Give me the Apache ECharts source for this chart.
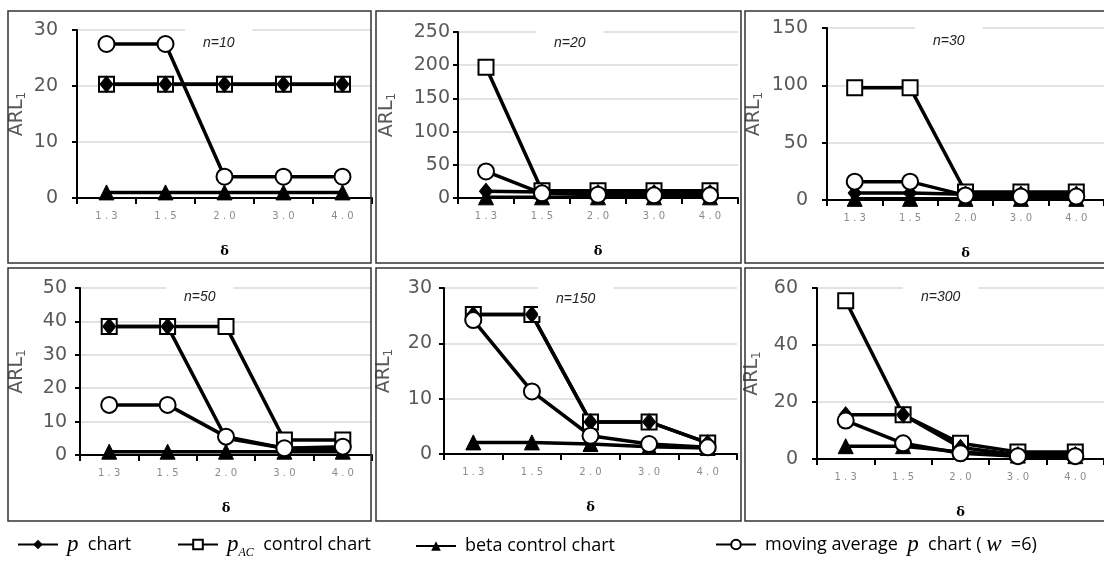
<!DOCTYPE html>
<html>
<head>
<meta charset="utf-8">
<script src="https://cdn.jsdelivr.net/npm/echarts@6/dist/echarts.min.js"></script>
<style>
  html, body { margin: 0; padding: 0; background: #fff; }
  #main { width: 1104px; height: 563px; }
</style>
</head>
<body>
<div id="main"></div>
<script>
// shift sizes (x axis) and panel sample sizes
const delta = ['1.3', '1.5', '2.0', '3.0', '4.0'];
const panelTitles = ['n=10', 'n=20', 'n=30', 'n=50', 'n=150', 'n=300'];
const yMax = [30, 250, 150, 50, 30, 60];
const yStep = [10, 50, 50, 10, 10, 20];

// ARL1 values per panel
const pChart = [
  [20.3, 20.3, 20.3, 20.3, 20.3],
  [10, 9, 8, 8, 8],
  [6, 6, 5, 5, 5],
  [38.5, 38.5, 5, 2, 2],
  [25.2, 25.2, 5.8, 5.8, 2],
  [15.5, 15.5, 4, 1.5, 1.5]
];
const pAC = [
  [20.3, 20.3, 20.3, 20.3, 20.3],
  [197, 11, 11, 11, 11],
  [98, 98, 7, 7, 7],
  [38.5, 38.5, 38.5, 4.5, 4.5],
  [25.2, 25.2, 5.8, 5.8, 2],
  [55.5, 15.5, 5.5, 2.5, 2.5]
];
const betaChart = [
  [1, 1, 1, 1, 1],
  [1, 1, 1, 1, 1],
  [1, 1, 1, 1, 1],
  [1, 1, 1, 1, 1],
  [2.1, 2.1, 1.8, 1.3, 1.1],
  [4.5, 4.5, 2.5, 1.2, 1]
];
const maChart = [
  [27.5, 27.5, 3.8, 3.8, 3.8],
  [40, 7, 5, 4, 4],
  [16, 16, 4, 3, 3],
  [15, 15, 5.5, 2, 2.5],
  [24.2, 11.3, 3.3, 1.8, 1.2],
  [13.5, 5.5, 2, 1, 1]
];

const seriesNames = ['p chart', 'pAC control chart', 'beta control chart', 'moving average p chart (w =6)'];

// layout of the six plot areas
const grids = [
  { left: 77, top: 30, width: 295, height: 168 },
  { left: 458, top: 32, width: 280, height: 166 },
  { left: 827, top: 28, width: 283, height: 172 },
  { left: 80, top: 288, width: 292, height: 167 },
  { left: 444, top: 288, width: 293, height: 166 },
  { left: 817, top: 288, width: 287, height: 171 }
];
const yLabelMargin = [19, 8, 19, 13, 12, 19];
const yNameGap = [49, 60, 62, 52, 49, 54];
const titlePos = [[220, 27], [571, 27], [950, 25], [201, 281], [573, 283], [938, 281]];
const boxes = [
  [8, 11, 363, 252], [376, 11, 365, 252], [745, 11, 370, 252],
  [8, 268, 363, 253], [376, 268, 365, 253], [745, 268, 370, 253]
];

const chart = echarts.init(document.getElementById('main'));

const xAxis = [], yAxis = [], series = [], title = [], graphic = [];

grids.forEach((g, i) => {
  xAxis.push({
    gridIndex: i,
    type: 'category',
    data: delta,
    boundaryGap: true,
    axisLine: { lineStyle: { color: '#000', width: 2 } },
    axisTick: { show: true, length: 6, lineStyle: { color: '#000', width: 2 } },
    axisLabel: {
      color: '#8c8c8c', fontSize: 10, margin: 13, fontFamily: 'DejaVu Sans',
      formatter: v => v.split('').join(' ')
    },
    name: 'δ',
    nameLocation: 'middle',
    nameGap: 47,
    nameTextStyle: { fontFamily: 'DejaVu Serif', fontWeight: 'bold', fontSize: 13, color: '#000' }
  });
  yAxis.push({
    gridIndex: i,
    type: 'value',
    min: 0,
    max: yMax[i],
    interval: yStep[i],
    axisLine: { show: true, lineStyle: { color: '#000', width: 2 } },
    axisTick: { show: true, length: 5, lineStyle: { color: '#000', width: 2 } },
    axisLabel: { color: '#595959', fontSize: 19, margin: yLabelMargin[i], fontFamily: 'DejaVu Sans' },
    splitLine: { lineStyle: { color: '#d9d9d9', width: 1.5 } },
    name: '{a|ARL}{b|1}',
    nameLocation: 'middle',
    nameRotate: 90,
    nameGap: yNameGap[i],
    nameTextStyle: {
      rich: {
        a: { color: '#595959', fontSize: 19, fontFamily: 'DejaVu Sans' },
        b: { color: '#595959', fontSize: 12, fontFamily: 'DejaVu Sans', verticalAlign: 'bottom', padding: [9, 0, 0, 0] }
      }
    }
  });
  title.push({
    text: panelTitles[i],
    left: titlePos[i][0] - 35,
    top: titlePos[i][1],
    backgroundColor: '#fff',
    padding: [9, 18, 10, 18],
    textStyle: { fontSize: 14, fontStyle: 'italic', fontWeight: 'normal', color: '#222', fontFamily: 'Liberation Sans' }
  });
  const base = { type: 'line', xAxisIndex: i, yAxisIndex: i, lineStyle: { color: '#000', width: 3.5 },
    itemStyle: { color: '#000', borderColor: '#000' }, animation: false };
  series.push(Object.assign({}, base, {
    name: seriesNames[1], data: pAC[i], symbol: 'rect', symbolSize: 15,
    itemStyle: { color: '#fff', borderColor: '#000', borderWidth: 2 }
  }));
  series.push(Object.assign({}, base, {
    name: seriesNames[0], data: pChart[i], symbol: 'diamond', symbolSize: [13, 16]
  }));
  series.push(Object.assign({}, base, {
    name: seriesNames[2], data: betaChart[i], symbol: 'triangle', symbolSize: 15
  }));
  series.push(Object.assign({}, base, {
    name: seriesNames[3], data: maChart[i], symbol: 'circle', symbolSize: 16,
    itemStyle: { color: '#fff', borderColor: '#000', borderWidth: 2 }
  }));
  const b = boxes[i];
  graphic.push({
    type: 'rect', shape: { x: b[0], y: b[1], width: b[2], height: b[3] },
    style: { fill: 'none', stroke: '#333', lineWidth: 1.5 }, z: 100
  });
});

const legendText = {
  'p chart': '{i|p}{t|  chart}',
  'pAC control chart': '{i|p}{s|AC}{t|  control chart}',
  'beta control chart': '{t|beta control chart}',
  'moving average p chart (w =6)': '{t|moving average  }{i|p}{t|  chart ( }{i|w}{t|  =6)}'
};
const legendLeft = [12, 172, 410, 710];
const legendTop = [528, 528, 532, 528];
const legend = seriesNames.map((n, k) => ({
  data: [n],
  left: legendLeft[k],
  top: legendTop[k],
  itemWidth: 40,
  itemHeight: 12,
  itemGap: 0,
  selectedMode: false,
  formatter: name => legendText[name],
  textStyle: {
    fontSize: 18, color: '#000', fontFamily: 'Open Sans',
    padding: [0, 0, 0, 4],
    rich: {
      t: { fontSize: 18, fontFamily: 'Open Sans', color: '#000', lineHeight: 28, verticalAlign: 'middle' },
      i: { fontSize: 23, fontStyle: 'italic', fontFamily: 'Liberation Serif', color: '#000', lineHeight: 28 },
      s: { fontSize: 12, fontStyle: 'italic', fontFamily: 'Liberation Serif', color: '#000', verticalAlign: 'bottom', padding: [12, 0, 0, 0] }
    }
  }
}));

chart.setOption({
  animation: false,
  title: title,
  grid: grids,
  xAxis: xAxis,
  yAxis: yAxis,
  legend: legend,
  series: series,
  graphic: graphic
});
</script>
</body>
</html>
